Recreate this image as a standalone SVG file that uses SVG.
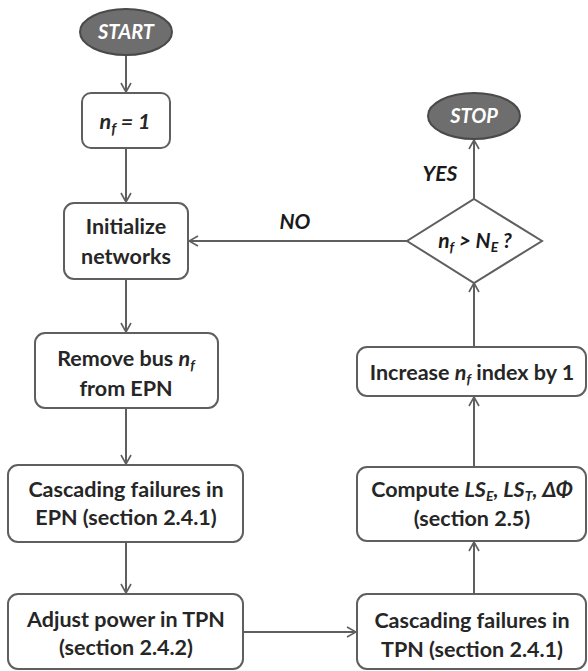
<svg xmlns="http://www.w3.org/2000/svg" width="588" height="671" viewBox="0 0 588 671">
<defs>
<style>
.box{fill:#fff;stroke:#5f5f5f;stroke-width:2}
.term{fill:#6e6e6e;stroke:#4a4a4a;stroke-width:2}
.t{font-family:Lato,"Open Sans",sans-serif;font-weight:bold;font-size:21.5px;fill:#262626;text-anchor:middle}
.tw{font-family:Lato,"Open Sans",sans-serif;font-weight:bold;font-style:italic;font-size:20px;fill:#fff;text-anchor:middle}
.i{font-style:italic}
.lbl{font-family:Lato,"Open Sans",sans-serif;font-weight:bold;font-style:italic;font-size:21px;fill:#1a1a1a;text-anchor:middle}
.c{fill:none;stroke:#5f5f5f;stroke-width:2}
</style>
<marker id="ah" viewBox="0 0 12 12" refX="11" refY="6" markerWidth="12" markerHeight="12" markerUnits="userSpaceOnUse" orient="auto">
<polyline points="2,1 11,6 2,11" fill="none" stroke="#5f5f5f" stroke-width="1.6"/>
</marker>
</defs>
<rect width="588" height="671" fill="#fff"/>
<g id="connectors">
<line class="c" x1="126" y1="55" x2="126" y2="92" marker-end="url(#ah)"/>
<line class="c" x1="126" y1="148" x2="126" y2="202" marker-end="url(#ah)"/>
<line class="c" x1="126" y1="279" x2="126" y2="332" marker-end="url(#ah)"/>
<line class="c" x1="126" y1="408" x2="126" y2="464" marker-end="url(#ah)"/>
<line class="c" x1="126" y1="542" x2="126" y2="593" marker-end="url(#ah)"/>
<line class="c" x1="243" y1="632" x2="356" y2="632" marker-end="url(#ah)"/>
<line class="c" x1="474" y1="593" x2="474" y2="542" marker-end="url(#ah)"/>
<line class="c" x1="474" y1="467" x2="474" y2="397" marker-end="url(#ah)"/>
<line class="c" x1="474" y1="347" x2="474" y2="283" marker-end="url(#ah)"/>
<line class="c" x1="474" y1="199" x2="474" y2="140" marker-end="url(#ah)"/>
<line class="c" x1="407" y1="241" x2="189" y2="241" marker-end="url(#ah)"/>
<text class="lbl" x="295" y="229">NO</text>
<text class="lbl" x="440" y="181">YES</text>
</g>
<g id="start">
<ellipse class="term" cx="126" cy="32" rx="46" ry="23"/>
<text class="tw" x="126" y="39">START</text>
</g>
<g id="nf1">
<rect class="box" x="82" y="93" width="88" height="55" rx="9"/>
<text class="t i" x="125" y="129" font-size="24">n<tspan font-size="15" dy="5">f</tspan><tspan dy="-5"> = 1</tspan></text>
</g>
<g id="init">
<rect class="box" x="64" y="203" width="124" height="76" rx="10"/>
<text class="t" x="126" y="234">Initialize</text>
<text class="t" x="126" y="264">networks</text>
</g>
<g id="remove">
<rect class="box" x="35" y="333" width="183" height="75" rx="10"/>
<text class="t" x="126" y="366">Remove bus <tspan class="i">n</tspan><tspan class="i" font-size="14" dy="4">f</tspan></text>
<text class="t" x="126" y="396">from EPN</text>
</g>
<g id="cascEPN">
<rect class="box" x="8" y="465" width="235" height="77" rx="10"/>
<text class="t" x="126" y="497">Cascading failures in</text>
<text class="t" x="126" y="525">EPN (section 2.4.1)</text>
</g>
<g id="adjust">
<rect class="box" x="8" y="594" width="235" height="75" rx="10"/>
<text class="t" x="126" y="627">Adjust power in TPN</text>
<text class="t" x="126" y="655">(section 2.4.2)</text>
</g>
<g id="cascTPN">
<rect class="box" x="357" y="594" width="229" height="75" rx="10"/>
<text class="t" x="472" y="628">Cascading failures in</text>
<text class="t" x="472" y="657">TPN (section 2.4.1)</text>
</g>
<g id="compute">
<rect class="box" x="357" y="467" width="229" height="74" rx="10"/>
<text class="t" x="472" y="497">Compute <tspan class="i">LS</tspan><tspan class="i" font-size="14" dy="4">E</tspan><tspan class="i" dy="-4">, LS</tspan><tspan class="i" font-size="14" dy="4">T</tspan><tspan class="i" dy="-4">, ΔΦ</tspan></text>
<text class="t" x="472" y="526">(section 2.5)</text>
</g>
<g id="increase">
<rect class="box" x="357" y="347" width="229" height="49" rx="10"/>
<text class="t" x="472" y="380">Increase <tspan class="i">n</tspan><tspan class="i" font-size="14" dy="4">f</tspan><tspan dy="-4"> index by 1</tspan></text>
</g>
<g id="decision">
<polygon points="474,199 542,241 474,283 407,241" fill="#fff" stroke="#5f5f5f" stroke-width="2"/>
<text class="lbl" x="475" y="248">n<tspan font-size="14" dy="4">f</tspan><tspan dy="-4"> &gt; N</tspan><tspan font-size="14" dy="4">E</tspan><tspan dy="-4"> ?</tspan></text>
</g>
<g id="stop">
<ellipse class="term" cx="474" cy="116" rx="46" ry="23"/>
<text class="tw" x="474" y="123">STOP</text>
</g>
</svg>
